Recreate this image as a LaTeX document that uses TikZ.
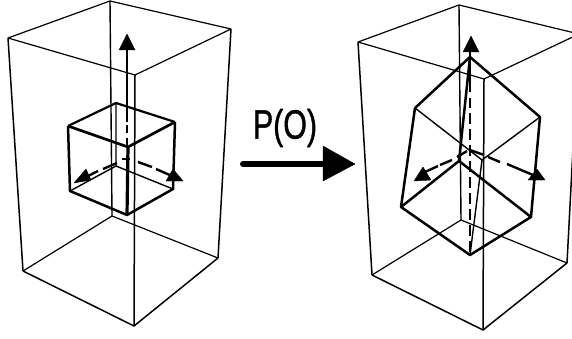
\documentclass[tikz,border=0pt]{standalone}
\usepackage{fontspec}
\setmainfont{Liberation Sans}
\newfontfamily\lblfont[FakeBold=1.2]{Liberation Sans}
\tikzset{
 boxtop/.style={line width=1.2pt,black},
 boxedge/.style={line width=1.5pt,black},
 cubethin/.style={line width=1.4pt,black},
 cubethick/.style={line width=2.5pt,black},
 axis/.style={line width=2.4pt,black},
 head/.style={fill=black,draw=black,line width=0.4pt}
}
\begin{document}
\begin{tikzpicture}[x=1pt,y=-1pt,line join=round]
\useasboundingbox (0,0) rectangle (572,339);
\clip (0,0) rectangle (572,339);
% left box
\coordinate (la) at (8,38); \coordinate (lb) at (110,1); \coordinate (lc) at (231,29); \coordinate (ld) at (135,75);
\coordinate (le) at (23,271); \coordinate (lf) at (112,216); \coordinate (lg) at (218,258); \coordinate (lh) at (134,326);
\draw[boxtop] (la)--(lb)--(lc)--(ld)--cycle;
\draw[boxtop] (le)--(lf)--(lg);
\draw[boxedge] (lg)--(lh)--(le);
\draw[boxedge] (la)--(le) (lc)--(lg) (ld)--(lh);
\draw[cubethin] (lb)--(lf);
% left cube
\coordinate (ca) at (68,126); \coordinate (cb) at (116,103); \coordinate (cc) at (175,122); \coordinate (cd) at (128,147);
\coordinate (ce) at (70,191); \coordinate (cf) at (116,166); \coordinate (cg) at (173,189); \coordinate (ch) at (127,215);
\draw[cubethick,line width=2.2pt] (ca)--(cb)--(cc);
\draw[cubethick,line width=2.7pt] (cc)--(cd)--(ca);
\draw[cubethick] (ca)--(ce)--(ch)--(cg)--(cc);
\draw[cubethin] (ce)--(cf)--(cg) (cb)--(cf);
\draw[cubethick,line width=3.2pt] (cd)--(ch);
% left axes
\draw[axis] (127,47)--(127,122) (127,125)--(127,133) (127,138)--(127,147) (127,155)--(127,163);
\fill[head] (127,34)--(135,50)--(119,50)--cycle;
\draw[axis] (122,159)--(130,159);
\draw[axis] (117,163)--(103,169) (98,171)--(86,177);
\draw[axis] (138,162)--(152,167) (156,169)--(172,176);
\fill[head] (74,183)--(86,169)--(91,180)--cycle;
\fill[head] (173,169)--(183,181)--(166,181)--cycle;
% arrow and label
\node (lbl) at (285,128) [xscale=0.74,font=\lblfont\fontsize{41}{41}\selectfont,inner sep=0pt] {P(O)};
\coordinate (as) at (243,164); \coordinate (ae) at (325,164);
\draw[line width=6pt,line cap=round] (as)--(ae);
\fill[head] (323,146)--(355,164)--(323,181)--cycle;
% right box
\coordinate (ra) at (358,42); \coordinate (rb) at (459,5); \coordinate (rc) at (579,34); \coordinate (rd) at (484,79);
\coordinate (re) at (372,275); \coordinate (rf) at (461,220); \coordinate (rg) at (567,263); \coordinate (rh) at (483,330);
\draw[boxtop] (ra)--(rb)--(rc)--(rd)--cycle;
\draw[boxtop] (re)--(rf)--(rg);
\draw[boxedge] (rg)--(rh)--(re);
\draw[boxedge] (ra)--(re) (rc)--(rg) (rd)--(rh);
\draw[cubethin] (rb)--(rf);
% right cube
\coordinate (qa) at (415,108); \coordinate (qb) at (470,57); \coordinate (qc) at (540,117); \coordinate (qd) at (482,160);
\coordinate (qe) at (401,207); \coordinate (qf) at (459,161); \coordinate (qg) at (531,217); \coordinate (qh) at (470,255);
\draw[cubethick] (qa)--(qb)--(qc)--(qg)--(qh)--(qe)--(qa);
\draw[cubethick] (qe)--(qf)--(qg) (qb)--(qf);
\draw[cubethin] (qa)--(qd)--(qc) (qd)--(qh);
% right axes
\draw[axis,line width=2.2pt] (470,50)--(470,92) (470,98)--(470,108) (470,113)--(470,124) (470,129)--(470,140) (470,145)--(470,156) (470,161)--(470,172) (470,177)--(470,188) (470,193)--(470,204) (470,209)--(470,220) (470,225)--(470,236) (470,241)--(470,252);
\fill[head] (471,36)--(479,52)--(463,52)--cycle;
\draw[axis] (457,157)--(467,151) (452,160)--(440,165) (438,166)--(425,172);
\draw[axis] (470,150)--(484,155) (488,157)--(500,162) (507,164)--(533,175);
\fill[head] (414,181)--(423,167)--(431,180)--cycle;
\fill[head] (537,169)--(545,180)--(528,180)--cycle;
\end{tikzpicture}
\end{document}
